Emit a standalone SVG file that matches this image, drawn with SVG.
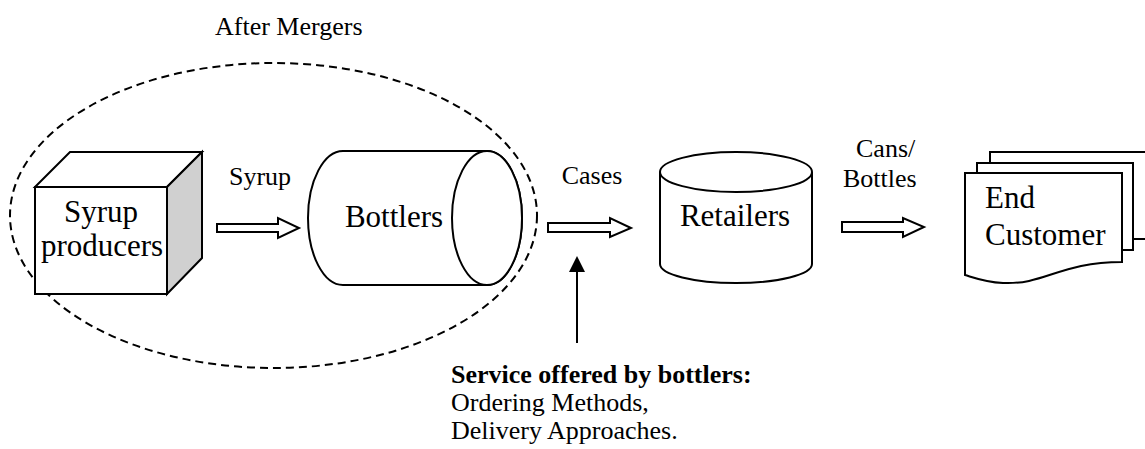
<svg xmlns="http://www.w3.org/2000/svg" width="1145" height="449" viewBox="0 0 1145 449">
<style>
text{font-family:"Liberation Serif","Times New Roman",serif;fill:#000}
.lbl{font-size:26px}
.node{font-size:31px}
.shape{fill:#fff;stroke:#000;stroke-width:2;stroke-linejoin:miter}
.harrow{fill:#fff;stroke:#000;stroke-width:2}
</style>
<defs>
<marker id="tri" markerWidth="16" markerHeight="16" refX="8" refY="8" orient="auto" markerUnits="userSpaceOnUse">
<path d="M0,0 L16,8 L0,16 Z" fill="#000"/>
</marker>
</defs>
<g id="group-after-mergers">
<ellipse cx="273.5" cy="215.5" rx="263.5" ry="152.5" fill="none" stroke="#000" stroke-width="2" stroke-dasharray="8,5"/>
<text class="lbl" x="215" y="35">After Mergers</text>
</g>
<g id="node-syrup-producers">
<path class="shape" d="M35,187 L70,152 L202,152 L167,187 Z"/>
<path d="M167,187 L202,152 L202,258 L167,294 Z" fill="#d0d0d0" stroke="#000" stroke-width="2"/>
<rect class="shape" x="35" y="187" width="132" height="107"/>
<text class="node" x="101" y="222" text-anchor="middle">Syrup</text>
<text class="node" x="102" y="256" text-anchor="middle">producers</text>
</g>
<g id="node-bottlers">
<path class="shape" d="M343,151 L487,151 A35,67 0 0 1 487,285 L343,285 A35,67 0 0 1 343,151 Z"/>
<ellipse class="shape" cx="487" cy="218" rx="35" ry="67"/>
<text class="node" x="394" y="227" text-anchor="middle">Bottlers</text>
</g>
<g id="node-retailers">
<path class="shape" d="M660,172 L660,264 A76,19 0 0 0 812,264 L812,172"/>
<ellipse class="shape" cx="736" cy="172" rx="76" ry="20"/>
<text class="node" x="735" y="226" text-anchor="middle">Retailers</text>
</g>
<g id="node-end-customer">
<path class="shape" d="M990,163 L990,152 L1146,152 L1146,239 L1133,239"/>
<path class="shape" d="M977,173 L977,163 L1133,163 L1133,250 L1122,250"/>
<path class="shape" d="M965,173 L1122,173 L1122,262 C1060,262 1045,285 1003,283 C985,282 975,278 965,275 Z"/>
<text class="node" x="985" y="208">End</text>
<text class="node" x="985" y="245">Customer</text>
</g>
<g id="connectors">
<path class="harrow" d="M217,224 L278,224 L278,218 L299,228 L278,238 L278,232 L217,232 Z"/>
<path class="harrow" d="M548,223 L610,223 L610,218 L631,228 L610,237 L610,232 L548,232 Z"/>
<path class="harrow" d="M842,222 L903,222 L903,218 L924,227 L903,237 L903,232 L842,232 Z"/>
<line x1="577" y1="343" x2="577" y2="264" stroke="#000" stroke-width="2" marker-end="url(#tri)"/>
<text class="lbl" x="260" y="185" text-anchor="middle">Syrup</text>
<text class="lbl" x="592" y="184" text-anchor="middle">Cases</text>
<text class="lbl" x="856" y="157">Cans/</text>
<text class="lbl" x="843" y="187">Bottles</text>
</g>
<g id="note-service">
<text class="lbl" x="451" y="383" font-weight="bold">Service offered by bottlers:</text>
<text class="lbl" x="451" y="411">Ordering Methods,</text>
<text class="lbl" x="451" y="439">Delivery Approaches.</text>
</g>
</svg>
